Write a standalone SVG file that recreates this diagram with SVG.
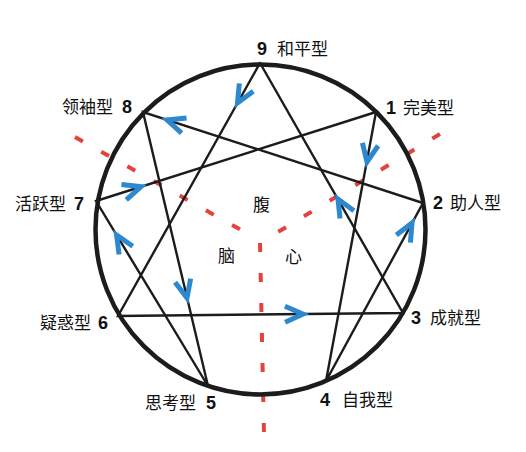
<svg xmlns="http://www.w3.org/2000/svg" xmlns:xlink="http://www.w3.org/1999/xlink" width="526" height="452" viewBox="0 0 526 452">
<style>
.cjk{font-family:"Noto Sans CJK SC","Noto Sans",sans-serif;font-size:17px;fill:#111}
.num{font-family:"Liberation Sans",Arial,sans-serif;font-weight:bold;font-size:18px;fill:#111}
.ln{stroke:#1c1c1c;stroke-width:2.4;fill:none;stroke-linecap:round}
.dash{stroke:#e2433f;stroke-width:4;fill:none;stroke-dasharray:9 21}
.chev{stroke:#2c88cf;stroke-width:5;fill:none;stroke-linejoin:miter;stroke-miterlimit:10}
</style>
<defs>
<path id="chev" class="chev" d="M-18,-8 L0,0 L-18,8"/>
</defs>
<rect width="526" height="452" fill="#ffffff"/>
<g id="dividers">
<line class="dash" x1="75" y1="137" x2="243" y2="231"/>
<line class="dash" x1="440" y1="134" x2="278" y2="232"/>
<line class="dash" x1="260" y1="243" x2="264" y2="435"/>
</g>
<g id="circle">
<circle cx="260.5" cy="229.5" r="165" fill="none" stroke="#1c1c1c" stroke-width="4.5"/>
</g>
<g id="connectors">
<polyline class="ln" points="260,63 118,316 403,313 260,63"/>
<polyline class="ln" points="376,112 326,381 423,203 143,112 208,386 96,201 376,112"/>
<use xlink:href="#chev" transform="translate(237.5,103) rotate(119.3)"/>
<use xlink:href="#chev" transform="translate(303,314) rotate(-0.6)"/>
<use xlink:href="#chev" transform="translate(338,199) rotate(-119.8)"/>
<use xlink:href="#chev" transform="translate(367,162) rotate(100.5)"/>
<use xlink:href="#chev" transform="translate(412,223) rotate(-61.4)"/>
<use xlink:href="#chev" transform="translate(167,120) rotate(-162)"/>
<use xlink:href="#chev" transform="translate(187,298) rotate(76.7)"/>
<use xlink:href="#chev" transform="translate(116.6,235) rotate(-121.2)"/>
<use xlink:href="#chev" transform="translate(141,186.7) rotate(-17.6)"/>
</g>
<g id="node9"><text class="num" x="257" y="55">9</text><text class="cjk" x="277" y="55">和平型</text></g>
<g id="node1"><text class="num" x="386" y="114">1</text><text class="cjk" x="403" y="114">完美型</text></g>
<g id="node2"><text class="num" x="433" y="209">2</text><text class="cjk" x="450" y="209">助人型</text></g>
<g id="node3"><text class="num" x="411" y="324">3</text><text class="cjk" x="430" y="324">成就型</text></g>
<g id="node4"><text class="num" x="320" y="406">4</text><text class="cjk" x="342" y="406">自我型</text></g>
<g id="node5"><text class="cjk" x="145" y="409">思考型</text><text class="num" x="206" y="409">5</text></g>
<g id="node6"><text class="cjk" x="40" y="329">疑惑型</text><text class="num" x="98" y="329">6</text></g>
<g id="node7"><text class="cjk" x="15" y="210">活跃型</text><text class="num" x="74" y="210">7</text></g>
<g id="node8"><text class="cjk" x="62" y="113">领袖型</text><text class="num" x="122" y="113">8</text></g>
<g id="centers">
<text class="cjk" x="253" y="211">腹</text>
<text class="cjk" x="218" y="262">脑</text>
<text class="cjk" x="285" y="263">心</text>
</g>
</svg>
